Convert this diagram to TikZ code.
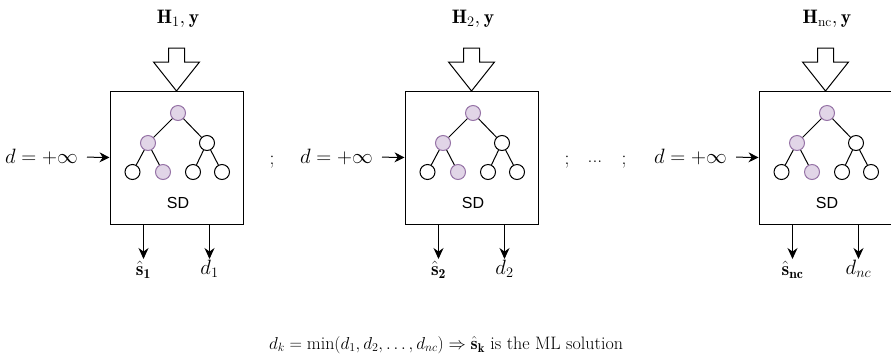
\documentclass[tikz,border=0pt]{standalone}
\usepackage{fontspec}
\setsansfont{Liberation Sans}
\usetikzlibrary{arrows.meta}
\definecolor{purfill}{HTML}{E1D5E7}
\definecolor{purline}{HTML}{9673A6}
\tikzset{
 leaf/.style={circle, draw=black, fill=white, minimum size=15pt, inner sep=0pt, line width=1pt},
 hit/.style={leaf, draw=purline, fill=purfill},
 sdbox/.style={draw, line width=1pt, minimum width=133pt, minimum height=133pt, inner sep=0pt},
 treeedge/.style={line width=1pt},
 outarrow/.style={line width=1pt, -{Stealth[length=11pt,width=10pt]}},
 inarrow/.style={line width=1pt, -{Stealth[length=10pt,width=10pt]}},
 mathlbl/.style={font=\fontsize{19.5}{21}\selectfont, inner sep=1pt},
 formula/.style={font=\fontsize{18}{20}\selectfont, inner sep=1pt},
 sdlbl/.style={font=\sffamily\fontsize{16}{18}\selectfont, inner sep=1pt},
 bigarrow/.style={draw, line width=1pt, fill=white},
}
\newcommand\sdunit[5]{% #1 prefix, #2 shift, #3 title index, #4 s label, #5 d index
\begin{scope}[shift={(#2,0)}]
 \node[sdbox] (#1box) at (176.5,157.5) {};
 \node[mathlbl] (#1title) at (178,19) {$\mathbf{H}_{#3},\mathbf{y}$};
 \draw[bigarrow] (168.5,48) -- (184.5,48) -- (184.5,62) -- (199.5,62) -- (176.5,91) coordinate (#1tip) -- (153.5,62) -- (168.5,62) -- cycle;
 \node[hit]  (#1r)   at (178,113) {};
 \node[hit]  (#1a)   at (148,143) {};
 \node[leaf] (#1b)   at (207,143) {};
 \node[leaf] (#1aa)  at (132.5,172) {};
 \node[hit]  (#1ab)  at (163,172) {};
 \node[leaf] (#1ba)  at (193,172) {};
 \node[leaf] (#1bb)  at (222,172) {};
 \draw[treeedge] (#1r) -- (#1a) (#1r) -- (#1b)
   (#1a) -- (#1aa) (#1a) -- (#1ab) (#1b) -- (#1ba) (#1b) -- (#1bb);
 \node[sdlbl] (#1sd) at (178,203) {SD};
 \node[mathlbl, anchor=east] (#1din) at (79,157) {$d=+\infty$};
 \draw[inarrow, shorten <=8pt] (#1din.east) -- (#1box.west);
 \node[mathlbl] (#1s) at (143.5,270) {$#4$};
 \node[mathlbl] (#1d) at (209.5,269) {$d_{#5}$};
 \draw[outarrow, shorten >=11pt] (#1box.south -| #1s.center) -- (#1s.center);
 \draw[outarrow, shorten >=10pt] (#1box.south -| #1d.center) -- (#1d.center);
\end{scope}
}
\begin{document}
\begin{tikzpicture}[x=1pt,y=-1pt]
\useasboundingbox (0,0) rectangle (891,357);
\sdunit{u1}{0}{1}{\hat{\mathbf{s}}_{\mathbf{1}}}{1}
\sdunit{u2}{295}{2}{\hat{\mathbf{s}}_{\mathbf{2}}}{2}
\sdunit{u3}{649}{\mathrm{nc}}{\hat{\mathbf{s}}_{\mathbf{nc}}}{nc}
\node[mathlbl] (sep1) at (272,162) {;};
\node[mathlbl] (sep2) at (567,162) {;};
\node[mathlbl] (dots) at (595,162) {...};
\node[mathlbl] (sep3) at (624,162) {;};
\node[formula] (result) at (446,345) {$d_k=\min(d_1,d_2,\ldots,d_{nc})\Rightarrow\hat{\mathbf{s}}_{\mathbf{k}}$ is the ML solution};
\end{tikzpicture}
\end{document}
